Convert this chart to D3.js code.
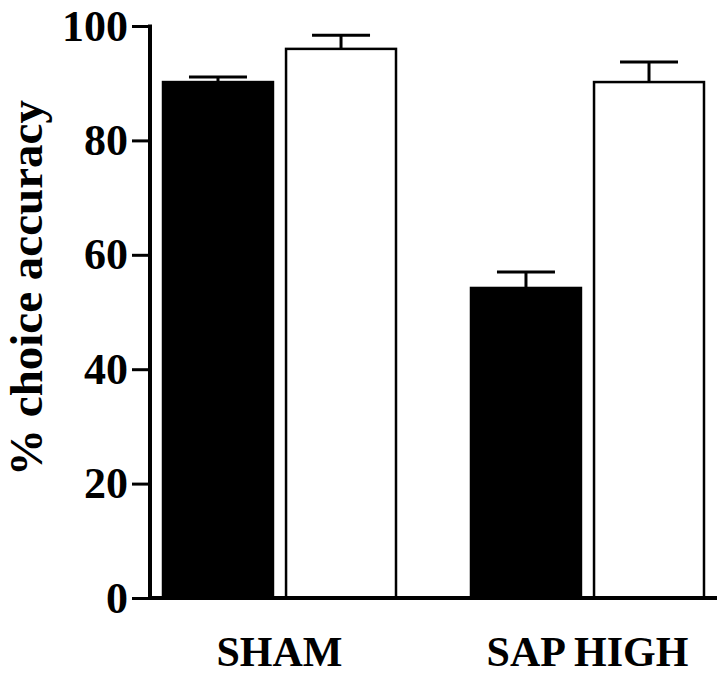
<!DOCTYPE html>
<html>
<head>
<meta charset="utf-8">
<script src="https://cdn.jsdelivr.net/npm/d3@7"></script>
<style>
html,body{margin:0;padding:0;background:#fff;}
svg{display:block;}
text{font-family:"Liberation Serif","Times New Roman",serif;font-weight:bold;fill:#000;}
</style>
</head>
<body>
<svg id="chart" width="720" height="674"></svg>
<script>
const groups = ["SHAM", "SAP HIGH"];
const series = ["black", "white"];
const meanBlack = [90.2, 54.2];
const meanWhite = [96.0, 90.2];
const semBlack = [0.9, 2.8];
const semWhite = [2.4, 3.5];
const yTicks = [0, 20, 40, 60, 80, 100];
const yLabel = "% choice accuracy";

const rows = [];
groups.forEach((g, i) => {
  rows.push({group: g, series: "black", value: meanBlack[i], err: semBlack[i]});
  rows.push({group: g, series: "white", value: meanWhite[i], err: semWhite[i]});
});

const svg = d3.select("#chart");
const axisX = 150, axisRight = 717;
const y = d3.scaleLinear().domain([0, 100]).range([598, 26]);
const x0 = d3.scaleBand().domain(groups).range([axisX, axisRight]).paddingInner(0.237).paddingOuter(0.039);
const x1 = d3.scaleBand().domain(series).range([0, x0.bandwidth()]).paddingInner(0.09).paddingOuter(0);

// bars
const bars = svg.append("g");
bars.selectAll("rect").data(rows).join("rect")
  .attr("x", d => x0(d.group) + x1(d.series) + 1)
  .attr("y", d => y(d.value))
  .attr("width", x1.bandwidth() - 2)
  .attr("height", d => y(0) - y(d.value))
  .attr("fill", d => d.series === "black" ? "#000" : "#fff")
  .attr("stroke", "#000")
  .attr("stroke-width", 2.5);

// error bars
const eb = svg.append("g").attr("stroke", "#000").attr("stroke-width", 3);
eb.selectAll("line.v").data(rows).join("line").attr("class", "v")
  .attr("x1", d => x0(d.group) + x1(d.series) + x1.bandwidth() / 2)
  .attr("x2", d => x0(d.group) + x1(d.series) + x1.bandwidth() / 2)
  .attr("y1", d => y(d.value))
  .attr("y2", d => y(d.value + d.err));
eb.selectAll("line.c").data(rows).join("line").attr("class", "c")
  .attr("x1", d => x0(d.group) + x1(d.series) + x1.bandwidth() / 2 - 29)
  .attr("x2", d => x0(d.group) + x1(d.series) + x1.bandwidth() / 2 + 29)
  .attr("y1", d => y(d.value + d.err))
  .attr("y2", d => y(d.value + d.err));

// y axis
const yAxis = d3.axisLeft(y).tickValues(yTicks).tickSize(18).tickPadding(4).tickFormat(d3.format("d"));
const gy = svg.append("g").attr("transform", `translate(${axisX},0)`).call(yAxis);
gy.select(".domain").remove();
gy.selectAll(".tick line").attr("stroke", "#000").attr("stroke-width", 3);
gy.selectAll(".tick text").attr("font-size", 44).attr("font-family", "Liberation Serif, serif").attr("font-weight", "bold").attr("dy", "0.32em");
svg.append("line").attr("x1", axisX).attr("x2", axisX).attr("y1", y(100) - 1.5).attr("y2", y(0) + 2)
  .attr("stroke", "#000").attr("stroke-width", 4);

// x axis line
svg.append("line").attr("x1", axisX - 2).attr("x2", axisRight).attr("y1", y(0)).attr("y2", y(0))
  .attr("stroke", "#000").attr("stroke-width", 4);

// x labels
svg.append("g").selectAll("text").data(groups).join("text")
  .attr("x", d => x0(d) + x0.bandwidth() / 2)
  .attr("y", 666)
  .attr("text-anchor", "middle")
  .attr("font-size", 42)
  .text(d => d);

// y label
svg.append("text")
  .attr("transform", "translate(42,288) rotate(-90)")
  .attr("text-anchor", "middle")
  .attr("font-size", 47)
  .text(yLabel);
</script>
</body>
</html>
